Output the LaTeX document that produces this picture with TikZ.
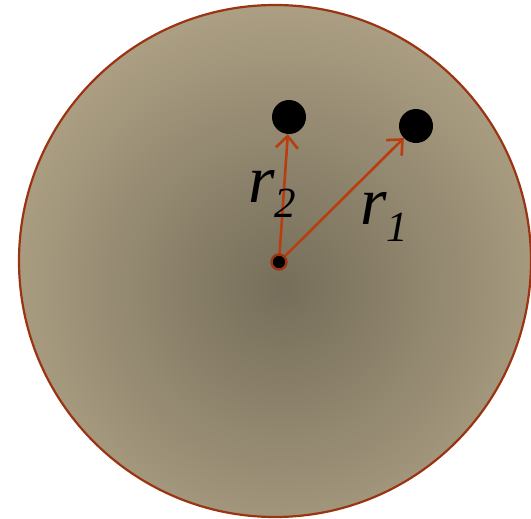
\documentclass[tikz,border=0pt]{standalone}
\usepackage{fontspec}
\setmainfont{Liberation Serif}
\usetikzlibrary{arrows.meta}
\definecolor{rim}{RGB}{155,52,18}
\definecolor{arr}{RGB}{184,62,16}
\definecolor{inner}{RGB}{118,110,90}
\definecolor{outer}{RGB}{172,159,131}
\tikzset{
  dot/.style={circle,fill=black,inner sep=0pt,minimum size=34pt},
  vec/.style={draw=arr,line width=2.6pt,-{Straight Barb[length=12pt,width=22pt,line width=2.6pt]}},
  lbl/.style={anchor=base west,inner sep=0pt,font=\fontsize{68}{68}\selectfont\itshape}
}
\begin{document}
\begin{tikzpicture}[x=1pt,y=-1pt]
\useasboundingbox (0,0) rectangle (531,519);
\begin{scope}
  \clip (275,261) circle (256);
  \fill[outer] (275,261) circle (256);
  \shade[inner color=inner,outer color=outer] (283,288) circle (285);
\end{scope}
\draw[rim,line width=2.2pt] (275,261) circle (256);
\node[dot] (d1) at (289,117) {};
\node[dot] (d2) at (416,126) {};
\coordinate (c) at (279,262);
\draw[vec] (c) -- (d1);
\draw[vec] (c) -- (d2);
\node[circle,fill=black,draw=rim,line width=2.4pt,inner sep=0pt,minimum size=15pt] (cd) at (c) {};
\node[lbl] (l2) at (248,203) {r\raisebox{-15pt}{\fontsize{43}{43}\selectfont 2}};
\node[lbl] (l1) at (360,225) {r\raisebox{-17pt}{\fontsize{43}{43}\selectfont 1}};
\end{tikzpicture}
\end{document}
